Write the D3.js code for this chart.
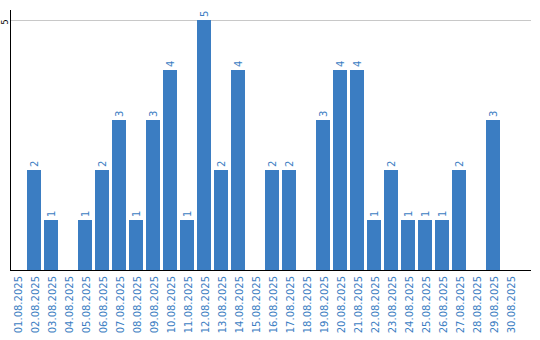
<!DOCTYPE html>
<html>
<head>
<meta charset="utf-8">
<script src="https://cdn.jsdelivr.net/npm/d3@7"></script>
<style>
  body { margin: 0; background: #fff; }
  text { font-family: "DejaVu Sans", Verdana, sans-serif; }
</style>
</head>
<body>
<div id="chart"></div>
<script>
const days = ['01.08.2025', '02.08.2025', '03.08.2025', '04.08.2025', '05.08.2025',
  '06.08.2025', '07.08.2025', '08.08.2025', '09.08.2025', '10.08.2025',
  '11.08.2025', '12.08.2025', '13.08.2025', '14.08.2025', '15.08.2025',
  '16.08.2025', '17.08.2025', '18.08.2025', '19.08.2025', '20.08.2025',
  '21.08.2025', '22.08.2025', '23.08.2025', '24.08.2025', '25.08.2025',
  '26.08.2025', '27.08.2025', '28.08.2025', '29.08.2025', '30.08.2025']
const counts = [0, 2, 1, 0, 1, 2, 3, 1, 3, 4, 1, 5, 2, 4, 0, 2, 2, 0, 3, 4, 4, 1, 2, 1, 1, 1, 2, 0, 3, 0]
const yTicks = [5]

const W = 540, H = 340
const plotLeft = 10, plotRight = 531, plotTop = 10, base = 270
const blue = '#3b7dc2'

const svg = d3.select('#chart')
  .append('svg')
  .attr('width', W)
  .attr('height', H)

const x = d3.scaleBand()
  .domain(days)
  .range([plotLeft, plotLeft + 510])
  .paddingInner(3 / 17)
  .paddingOuter(1.5 / 17)
  .align(0)

const y = d3.scaleLinear()
  .domain([0, 5])
  .range([base, 20])

// grid
svg.selectAll('.grid')
  .data(yTicks)
  .enter()
  .append('line')
  .attr('x1', plotLeft)
  .attr('x2', plotRight)
  .attr('y1', d => y(d) + 0.5)
  .attr('y2', d => y(d) + 0.5)
  .attr('stroke', '#c8c8c8')

svg.selectAll('.ytick')
  .data(yTicks)
  .enter()
  .append('text')
  .text(d => d)
  .attr('font-size', 8)
  .attr('text-anchor', 'middle')
  .attr('transform', d => `translate(8, ${y(d) + 2}) rotate(-90)`)

// bars
const bars = days.map((d, i) => ({ day: d, value: counts[i] })).filter(d => d.value > 0)

svg.selectAll('.bar')
  .data(bars)
  .enter()
  .append('rect')
  .attr('x', d => x(d.day))
  .attr('y', d => y(d.value))
  .attr('width', x.bandwidth())
  .attr('height', d => base - y(d.value))
  .attr('fill', blue)

svg.selectAll('.val')
  .data(bars)
  .enter()
  .append('text')
  .text(d => d.value)
  .attr('font-size', 10)
  .attr('fill', blue)
  .attr('transform', d => `translate(${x(d.day) + x.bandwidth() / 2 + 3.5}, ${y(d.value) - 3}) rotate(-90)`)

// axes lines
svg.append('line')
  .attr('x1', plotLeft + 0.5).attr('x2', plotLeft + 0.5)
  .attr('y1', plotTop).attr('y2', base + 1)
  .attr('stroke', '#000')
svg.append('line')
  .attr('x1', plotLeft).attr('x2', plotRight)
  .attr('y1', base + 0.5).attr('y2', base + 0.5)
  .attr('stroke', '#000')

svg.selectAll('.xlab')
  .data(days)
  .enter()
  .append('text')
  .text(d => d)
  .attr('font-size', 10)
  .attr('fill', blue)
  .attr('text-anchor', 'end')
  .attr('transform', d => `translate(${x(d) + x.bandwidth() / 2 + 5}, 276) rotate(-90)`)
</script>
</body>
</html>
